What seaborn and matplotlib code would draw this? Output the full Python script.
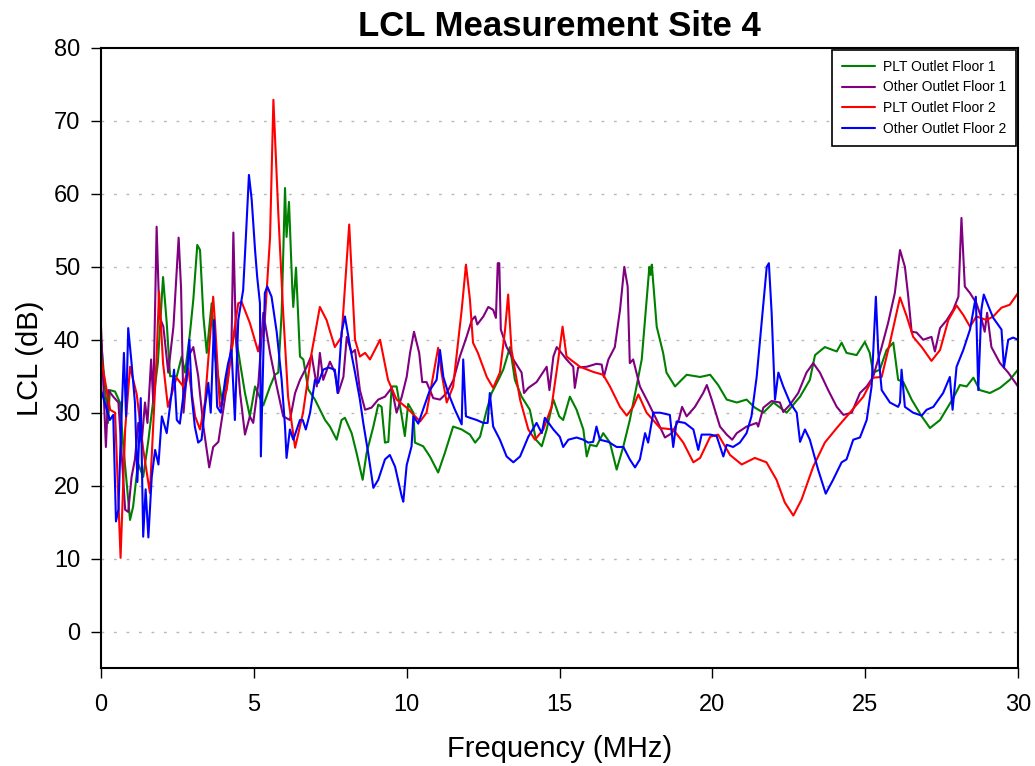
import numpy as np
import pandas as pd
import matplotlib
matplotlib.use("Agg")
import matplotlib.pyplot as plt
import seaborn as sns

# ---------------- data ----------------
series_names = ["PLT Outlet Floor 1", "Other Outlet Floor 1", "PLT Outlet Floor 2", "Other Outlet Floor 2"]
series_colors = ["#008000", "#800080", "#ff0000", "#0000ff"]

plt1_f = [0.0, 0.23, 0.29, 0.46, 0.62, 0.72, 0.84, 0.95, 1.05, 1.21, 1.38, 1.54, 1.7, 1.86, 2.03, 2.15, 2.26, 2.48,
          2.64, 2.75, 2.91, 3.02, 3.15, 3.24, 3.35, 3.46, 3.62, 3.73, 3.95, 4.11, 4.27, 4.38, 4.55, 4.71, 4.87, 5.04,
          5.31, 5.53, 5.69, 5.8, 5.91, 6.02, 6.07, 6.15, 6.26, 6.29, 6.38, 6.51, 6.62, 6.78, 7.0, 7.33, 7.49, 7.71,
          7.87, 7.98, 8.2, 8.36, 8.56, 8.69, 8.91, 9.07, 9.18, 9.29, 9.4, 9.51, 9.67, 9.84, 9.94, 10.05, 10.22, 10.27,
          10.54, 10.76, 11.03, 11.25, 11.52, 11.8, 12.07, 12.24, 12.4, 12.62, 12.78, 13.0, 13.16, 13.38, 13.54, 13.76,
          14.03, 14.23, 14.42, 14.58, 14.8, 14.99, 15.12, 15.34, 15.56, 15.78, 15.89, 16.0, 16.21, 16.43, 16.65, 16.87,
          17.09, 17.3, 17.52, 17.69, 17.85, 17.94, 17.98, 18.02, 18.18, 18.39, 18.5, 18.78, 19.16, 19.6, 19.93, 20.19,
          20.47, 20.8, 21.12, 21.39, 21.67, 22.0, 22.43, 22.87, 23.19, 23.36, 23.68, 24.07, 24.23, 24.39, 24.72, 24.99,
          25.15, 25.26, 25.48, 25.7, 25.92, 26.08, 26.25, 26.52, 26.85, 27.12, 27.45, 27.88, 28.1, 28.32, 28.54, 28.75,
          29.08, 29.41, 29.73, 30.0]
plt1_v = [40.0, 28.6, 33.1, 32.9, 31.4, 25.9, 20.4, 15.3, 17.1, 23.1, 21.2, 25.9, 31.4, 36.8, 48.6, 42.3, 35.0, 35.0,
          37.7, 35.5, 40.9, 45.5, 53.0, 52.3, 43.2, 38.2, 45.0, 37.7, 31.8, 34.5, 38.6, 41.4, 36.8, 32.7, 29.5, 33.6,
          31.0, 33.6, 35.2, 35.5, 43.7, 60.8, 54.1, 58.9, 46.8, 44.5, 49.9, 37.7, 37.3, 33.2, 31.8, 29.0, 28.1, 26.3,
          29.0, 29.3, 27.2, 24.5, 20.8, 24.5, 28.1, 31.1, 30.8, 25.9, 26.0, 33.6, 33.6, 29.5, 26.8, 31.2, 30.0, 25.9,
          25.4, 24.0, 21.8, 24.5, 28.1, 27.7, 27.0, 25.9, 26.7, 30.4, 32.7, 34.5, 35.9, 39.0, 34.5, 32.2,
          30.4, 26.3, 25.4, 27.7, 31.8, 29.5, 29.0, 32.2, 30.4, 27.7, 24.0, 25.6, 25.4, 27.2, 25.9, 22.2,
          25.4, 29.0, 33.6, 37.3, 45.5, 50.0, 48.9, 50.3, 41.8, 38.2, 35.5, 33.6, 35.2, 34.9, 35.2, 33.8,
          31.8, 31.4, 31.8, 30.7, 30.0, 31.4, 30.0, 32.2, 34.5, 37.9, 39.0, 38.4, 39.6, 38.2, 37.9, 39.7,
          38.2, 35.5, 35.9, 38.6, 39.6, 34.5, 34.2, 31.8, 29.5, 27.9, 29.0, 32.0, 33.8, 33.6, 34.8, 33.1,
          32.7, 33.4, 34.5, 35.9]

oth1_f = [0.0, 0.16, 0.24, 0.4, 0.57, 0.68, 0.79, 0.89, 1.0, 1.11, 1.22, 1.33, 1.44, 1.52, 1.64, 1.71, 1.82, 1.91,
          2.04, 2.2, 2.37, 2.54, 2.62, 2.7, 2.78, 2.86, 3.02, 3.18, 3.35, 3.54, 3.67, 3.84, 4.0, 4.16, 4.27, 4.33,
          4.42, 4.55, 4.71, 4.87, 4.98, 5.15, 5.31, 5.53, 5.75, 5.96, 6.18, 6.35, 6.51, 6.73, 6.89, 7.06, 7.16, 7.27,
          7.49, 7.65, 7.76, 7.93, 8.04, 8.2, 8.31, 8.47, 8.64, 8.85, 9.07, 9.29, 9.51, 9.67, 9.84, 10.0, 10.11, 10.24,
          10.41, 10.51, 10.65, 10.87, 11.09, 11.31, 11.53, 11.74, 11.96, 12.13, 12.24, 12.31, 12.51, 12.67, 12.83,
          12.92, 12.98, 13.03, 13.08, 13.27, 13.49, 13.76, 13.84, 13.98, 14.25, 14.58, 14.67, 14.8, 14.91, 15.23,
          15.45, 15.5, 15.61, 15.89, 16.21, 16.38, 16.45, 16.6, 16.81, 16.98, 17.12, 17.23, 17.3, 17.41, 17.63, 17.9,
          18.18, 18.45, 18.68, 18.9, 19.01, 19.16, 19.43, 19.7, 19.82, 19.98, 20.25, 20.47, 20.65, 20.8, 21.12, 21.45,
          21.5, 21.67, 21.94, 22.21, 22.32, 22.54, 22.81, 23.08, 23.3, 23.52, 23.79, 24.07, 24.29, 24.56, 24.83,
          25.05, 25.26, 25.54, 25.75, 25.97, 26.14, 26.3, 26.41, 26.52, 26.68, 26.9, 27.17, 27.28, 27.45, 27.67,
          27.88, 28.05, 28.15, 28.26, 28.43, 28.64, 28.8, 28.91, 28.99, 29.13, 29.41, 29.68, 30.0]
oth1_v = [41.8, 25.3, 33.1, 32.2, 31.4, 24.0, 16.7, 16.4, 21.2, 23.6, 28.6, 25.9, 31.4, 28.6, 37.3, 31.4, 55.5, 43.2,
          41.8, 35.5, 41.8, 54.0, 47.0, 30.0, 34.0, 37.7, 39.0, 35.0, 28.1, 22.5, 25.3, 26.0, 30.4, 35.0, 39.6, 54.7,
          39.6, 32.7, 27.0, 29.5, 28.6, 34.1, 43.7, 38.2, 33.6, 29.5, 29.0, 32.7, 34.5, 36.3, 37.9, 33.6, 38.2, 34.5,
          37.0, 35.5, 32.7, 34.9, 40.4, 38.2, 38.6, 33.1, 30.4, 30.7, 31.8, 32.2, 33.4, 30.0, 32.2, 34.9, 38.2, 41.1,
          38.2, 34.2, 34.2, 32.0, 31.8, 32.7, 34.5, 37.7, 40.4, 42.7, 43.2, 42.1, 43.2, 44.5, 44.1,
          43.0, 50.5, 50.5, 41.4, 39.0, 37.3, 35.5, 32.7, 33.4, 34.2, 36.3, 33.1, 37.7, 39.0, 37.3,
          36.3, 33.4, 36.2, 36.3, 36.7, 36.6, 34.9, 37.3, 39.0, 44.1, 50.0, 47.3, 36.8, 37.3, 33.6, 31.4,
          29.0, 26.6, 27.2, 29.0, 30.8, 29.5, 30.8, 32.7, 33.8, 31.8, 28.1, 27.0, 26.3, 27.2, 28.1, 28.6,
          28.1, 30.7, 31.6, 31.4, 30.1, 31.1, 32.7, 35.5, 36.8, 35.5, 33.1, 30.8, 29.7, 30.0, 32.7,
          33.6, 34.9, 39.0, 42.3, 46.4, 52.3, 50.0, 45.9, 41.1, 41.0, 40.0, 40.4, 38.4, 41.6, 42.7,
          44.1, 45.9, 56.7, 47.3, 46.4, 45.0, 43.0, 41.1, 43.7, 39.0, 36.8, 35.5, 33.6]

plt2_f = [0.0, 0.3, 0.46, 0.64, 0.79, 0.95, 1.17, 1.38, 1.6, 1.82, 1.9, 2.03, 2.19, 2.47, 2.69, 2.85, 3.08, 3.24, 3.4,
          3.67, 3.73, 3.89, 4.11, 4.33, 4.49, 4.6, 4.87, 5.14, 5.36, 5.53, 5.64, 5.8, 5.96, 6.12, 6.35, 6.61, 6.89,
          7.16, 7.38, 7.65, 7.87, 8.12, 8.31, 8.47, 8.64, 8.8, 9.13, 9.39, 9.67, 10.0, 10.44, 10.65, 11.03, 11.14,
          11.31, 11.52, 11.8, 11.94, 12.07, 12.17, 12.33, 12.62, 12.83, 13.05, 13.22, 13.32, 13.43, 13.71, 13.98,
          14.2, 14.47, 14.74, 14.96, 15.1, 15.23, 15.67, 16.1, 16.43, 16.65, 16.98, 17.2, 17.41, 17.58, 17.85, 18.29,
          18.72, 19.05, 19.38, 19.6, 19.93, 20.19, 20.58, 20.96, 21.39, 21.77, 22.1, 22.37, 22.65, 22.92, 23.3, 23.68,
          24.07, 24.5, 24.94, 25.26, 25.54, 25.81, 26.14, 26.36, 26.57, 26.85, 27.17, 27.45, 27.72, 27.99, 28.21,
          28.43, 28.64, 28.97, 29.19, 29.46, 29.73, 30.0]
plt2_v = [37.5, 30.4, 30.0, 10.1, 27.7, 36.3, 32.5, 25.0, 19.0, 37.7, 46.6, 36.8, 30.8, 34.8, 33.6, 36.1, 29.5, 27.7, 31.4,
          45.9, 42.3, 30.8, 33.1, 40.4, 45.0, 45.2, 42.3, 38.4, 42.7, 54.0, 72.9, 57.4, 43.7, 32.2, 25.2, 30.0, 38.2,
          44.5, 42.7, 39.0, 40.4, 55.8, 40.0, 37.7, 38.2, 37.3, 40.0, 34.5, 31.8, 30.7, 28.8, 30.0, 38.9, 35.5,
          31.4, 33.6, 44.1, 50.3, 45.5, 39.6, 38.2, 34.9, 33.4, 35.5, 41.4, 46.2, 38.6, 31.8, 27.7,
          26.3, 27.7, 30.8, 37.3, 41.8, 37.7, 36.3, 35.6, 35.2, 33.6, 30.8, 29.6, 30.8, 32.5, 30.0, 27.9,
          27.7, 25.9, 23.2, 23.8, 26.7, 27.0, 24.2, 22.9, 23.8, 23.2, 20.8, 17.7, 15.9, 18.1, 22.6, 25.9,
          27.9, 30.0, 32.2, 34.8, 34.9, 39.6, 45.8, 43.2, 40.4, 39.0, 37.1, 38.6, 42.7, 44.7, 43.4,
          41.8, 43.2, 42.7, 43.2, 44.4, 44.8, 46.4]

oth2_f = [0.0, 0.19, 0.29, 0.4, 0.49, 0.57, 0.64, 0.75, 0.82, 0.89, 1.0, 1.11, 1.19, 1.3, 1.38, 1.46, 1.55, 1.66, 1.77,
          1.88, 1.99, 2.15, 2.31, 2.39, 2.48, 2.58, 2.69, 2.8, 2.89, 2.97, 3.07, 3.18, 3.29, 3.4, 3.51, 3.59, 3.7,
          3.8, 3.92, 4.06, 4.16, 4.27, 4.38, 4.49, 4.65, 4.74, 4.84, 4.93, 5.04, 5.11, 5.2, 5.23, 5.36, 5.44, 5.58,
          5.75, 5.91, 6.02, 6.07, 6.18, 6.29, 6.51, 6.6, 6.7, 6.84, 7.0, 7.11, 7.27, 7.44, 7.65, 7.74, 7.87, 7.98,
          8.15, 8.31, 8.47, 8.58, 8.74, 8.91, 9.07, 9.29, 9.45, 9.62, 9.84, 9.89, 10.0, 10.16, 10.22, 10.38, 10.6,
          10.76, 10.98, 11.09, 11.2, 11.36, 11.58, 11.8, 11.85, 11.94, 12.07, 12.29, 12.51, 12.65, 12.72, 12.83,
          13.05, 13.27, 13.49, 13.71, 13.98, 14.25, 14.42, 14.52, 14.8, 15.01, 15.12, 15.29, 15.56, 15.78, 15.94,
          16.1, 16.21, 16.32, 16.6, 16.87, 17.09, 17.3, 17.47, 17.63, 17.8, 17.9, 18.07, 18.29, 18.61, 18.72, 18.83,
          19.1, 19.38, 19.54, 19.65, 19.93, 20.14, 20.36, 20.47, 20.68, 20.9, 21.12, 21.28, 21.45, 21.61, 21.78,
          21.85, 21.94, 22.05, 22.16, 22.32, 22.54, 22.76, 22.87, 23.03, 23.19, 23.46, 23.71, 23.95, 24.23, 24.39,
          24.61, 24.83, 25.05, 25.21, 25.35, 25.43, 25.54, 25.81, 26.08, 26.14, 26.19, 26.3, 26.57, 26.85, 27.01,
          27.23, 27.55, 27.77, 27.86, 27.99, 28.21, 28.43, 28.62, 28.7, 28.8, 28.88, 29.08, 29.19, 29.46, 29.54,
          29.68, 29.84, 30.0]
oth2_v = [33.1, 30.4, 29.0, 29.7, 15.1, 16.7, 25.9, 38.2, 29.5, 41.6, 36.8, 31.4, 20.5, 32.0, 13.0, 19.5, 12.9, 21.2, 24.9,
          22.9, 29.5, 27.2, 32.7, 35.9, 29.0, 28.5, 32.2, 34.5, 40.0, 32.2, 28.1, 25.9, 26.3, 30.8, 34.1, 30.0, 42.7,
          30.8, 30.0, 34.5, 36.8, 38.6, 29.0, 42.7, 46.8, 54.1, 62.6, 59.2, 52.3, 48.6, 45.0, 24.0, 46.4, 47.3, 45.9,
          41.0, 34.5, 28.1, 23.8, 27.7, 26.3, 29.0, 29.0, 27.7, 30.0, 34.5, 34.1, 35.9, 36.2, 35.9, 32.7, 41.0, 43.2,
          39.0, 35.5, 31.8, 28.6, 24.5, 19.7, 20.8, 23.6, 24.2, 22.6, 18.5, 17.8, 22.8, 25.4, 29.5, 28.5, 31.2,
          33.1, 34.5, 38.6, 34.9, 32.7, 30.4, 28.4, 37.3, 29.5, 29.3, 29.0, 28.6, 28.6, 32.7, 28.1,
          26.3, 24.0, 23.2, 24.0, 26.7, 28.6, 27.2, 29.3, 27.7, 26.7, 25.3, 26.3, 26.6, 26.3, 25.9,
          26.0, 28.1, 26.3, 26.0, 25.3, 25.3, 23.6, 22.5, 23.6, 27.2, 25.9, 30.0, 30.0, 29.7, 25.3, 28.8,
          28.6, 27.7, 24.9, 27.0, 27.0, 26.8, 24.0, 25.6, 25.3, 25.9, 27.2, 29.5, 34.9, 42.3, 50.0,
          50.5, 43.7, 31.8, 35.5, 33.6, 31.4, 30.0, 26.0, 27.7, 26.3, 22.2, 18.9, 20.8, 23.2, 23.6,
          26.3, 26.6, 29.0, 33.6, 45.9, 38.2, 33.1, 31.4, 30.8, 31.4, 35.9, 30.8, 30.0, 29.6, 30.4,
          30.8, 32.7, 34.9, 30.4, 36.3, 38.6, 41.4, 45.9, 33.1, 44.1, 46.2, 44.1, 43.0, 41.4, 36.2,
          40.0, 40.3, 40.0]

x_ticks = [0, 5, 10, 15, 20, 25, 30]
y_ticks = [0, 10, 20, 30, 40, 50, 60, 70, 80]
title_text = "LCL Measurement Site 4"
x_label = "Frequency (MHz)"
y_label = "LCL (dB)"

# ---------------- build long-form table ----------------
frames = []
for name, f, v in zip(series_names,
                      [plt1_f, oth1_f, plt2_f, oth2_f],
                      [plt1_v, oth1_v, plt2_v, oth2_v]):
    frames.append(pd.DataFrame({"Frequency": f, "LCL": v, "Series": name}))
df = pd.concat(frames, ignore_index=True)

# ---------------- style ----------------
sns.set_style("ticks")
plt.rcParams["font.family"] = ["Liberation Sans", "DejaVu Sans"]
plt.rcParams.update({"text.color": "black", "axes.labelcolor": "black",
                     "xtick.color": "black", "ytick.color": "black",
                     "axes.edgecolor": "black"})

fig = plt.figure(figsize=(10.35, 7.66), dpi=100)
ax = fig.add_axes([101 / 1035, 1 - 668 / 766, 917 / 1035, 620 / 766])

sns.lineplot(data=df, x="Frequency", y="LCL", hue="Series", hue_order=series_names,
             palette=dict(zip(series_names, series_colors)), estimator=None, sort=False,
             linewidth=1.5, ax=ax)

ax.set_xlim(0, 30)
ax.set_ylim(-5, 80)
ax.set_xticks(x_ticks)
ax.set_yticks(y_ticks)

for y in y_ticks[:-1]:
    ax.axhline(y, color="#b8b8b8", linewidth=1.0, linestyle=(0, (2, 7)), zorder=0)

for s in ax.spines.values():
    s.set_visible(True)
    s.set_color("black")
    s.set_linewidth(1.5)

ax.tick_params(axis="both", direction="out", length=7, width=1.0, colors="black",
               labelcolor="black", labelsize=17)
ax.tick_params(axis="x", pad=11.5)
ax.tick_params(axis="y", pad=8)

ax.set_xlabel(x_label, fontsize=21, labelpad=14, color="black")
ax.set_ylabel(y_label, fontsize=21, labelpad=7, color="black")
ax.set_title(title_text, fontsize=25, fontweight="bold", pad=9, color="black")

leg = ax.legend(loc="upper right", fontsize=10, frameon=True, fancybox=False,
                edgecolor="black", framealpha=1, borderaxespad=0.15, handlelength=2.4,
                handletextpad=0.55, labelspacing=0.48, borderpad=0.7, title=None)
leg.get_frame().set_linewidth(1.2)
for text in leg.get_texts():
    text.set_color("black")
for line in leg.get_lines():
    line.set_linewidth(1.5)

fig.savefig("out.png", dpi=100)
